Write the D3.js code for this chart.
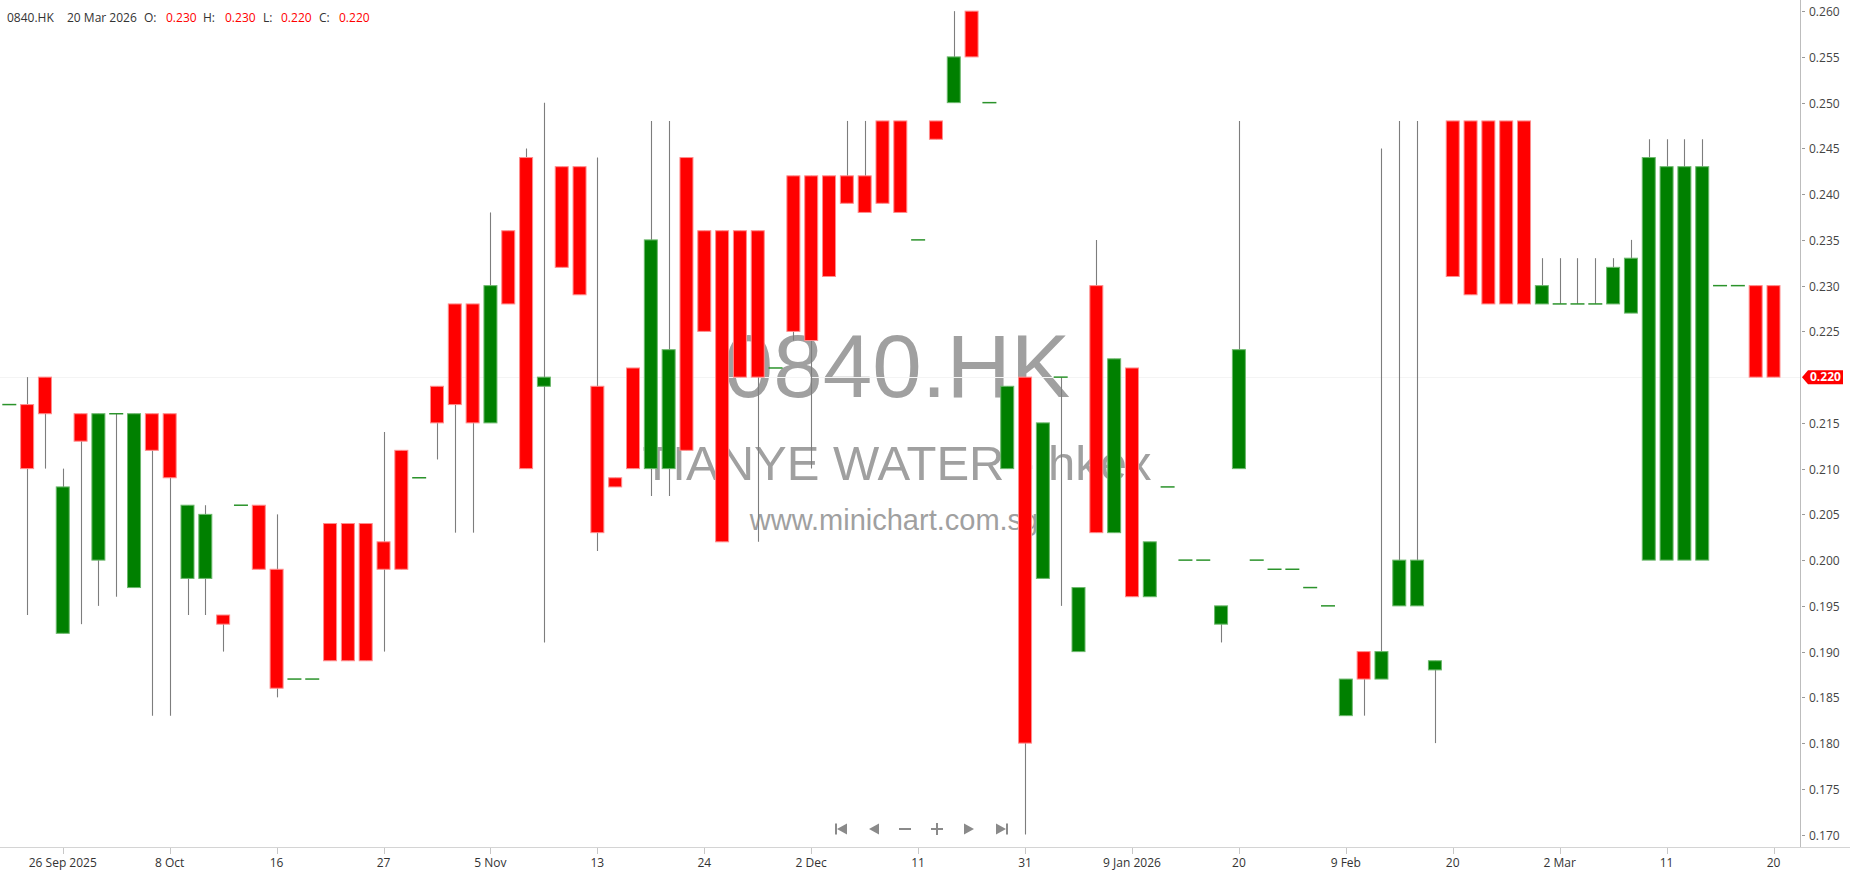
<!DOCTYPE html>
<html><head><meta charset="utf-8">
<script src="https://cdn.jsdelivr.net/npm/d3@7"></script>
<style>
html,body{margin:0;padding:0;background:#fff;overflow:hidden;}
svg{display:block;}
</style></head><body>
<svg id="chart" width="1850" height="874"></svg>
<script>
const opens = [0.217,0.217,0.220,0.192,0.216,0.200,0.216,0.197,0.216,0.216,
0.198,0.198,0.194,0.206,0.206,0.199,0.187,0.187,0.204,0.204,
0.204,0.202,0.212,0.209,0.219,0.228,0.228,0.215,0.236,0.244,
0.219,0.243,0.243,0.219,0.209,0.221,0.210,0.210,0.244,0.236,
0.236,0.236,0.236,0.221,0.242,0.242,0.242,0.242,0.242,0.248,
0.248,0.235,0.248,0.250,0.260,0.250,0.210,0.220,0.198,0.220,
0.190,0.230,0.203,0.221,0.196,0.208,0.200,0.200,0.193,0.210,
0.200,0.199,0.199,0.197,0.195,0.183,0.190,0.187,0.195,0.195,
0.188,0.248,0.248,0.248,0.248,0.248,0.228,0.228,0.228,0.228,
0.228,0.227,0.200,0.200,0.200,0.200,0.230,0.230,0.230,0.230];
const highs = [0.217,0.220,0.220,0.210,0.216,0.216,0.216,0.216,0.216,0.216,
0.206,0.206,0.194,0.206,0.206,0.205,0.187,0.187,0.204,0.204,
0.204,0.214,0.212,0.209,0.219,0.228,0.228,0.238,0.236,0.245,
0.250,0.243,0.243,0.244,0.209,0.221,0.248,0.248,0.244,0.236,
0.236,0.236,0.236,0.221,0.242,0.242,0.242,0.248,0.248,0.248,
0.248,0.235,0.248,0.260,0.260,0.250,0.219,0.220,0.215,0.220,
0.197,0.235,0.222,0.221,0.202,0.208,0.200,0.200,0.195,0.248,
0.200,0.199,0.199,0.197,0.195,0.187,0.190,0.245,0.248,0.248,
0.189,0.248,0.248,0.248,0.248,0.248,0.233,0.233,0.233,0.233,
0.233,0.235,0.246,0.246,0.246,0.246,0.230,0.230,0.230,0.230];
const lows = [0.217,0.194,0.210,0.192,0.193,0.195,0.196,0.197,0.183,0.183,
0.194,0.194,0.190,0.206,0.199,0.185,0.187,0.187,0.189,0.189,
0.189,0.190,0.199,0.209,0.211,0.203,0.203,0.215,0.228,0.210,
0.191,0.232,0.229,0.201,0.208,0.210,0.207,0.207,0.212,0.225,
0.202,0.220,0.202,0.221,0.224,0.210,0.231,0.239,0.238,0.239,
0.238,0.235,0.246,0.250,0.255,0.250,0.210,0.170,0.198,0.195,
0.190,0.203,0.203,0.196,0.196,0.208,0.200,0.200,0.191,0.210,
0.200,0.199,0.199,0.197,0.195,0.183,0.183,0.187,0.195,0.195,
0.180,0.231,0.229,0.228,0.228,0.228,0.228,0.228,0.228,0.228,
0.228,0.227,0.200,0.200,0.200,0.200,0.230,0.230,0.220,0.220];
const closes = [0.217,0.210,0.216,0.208,0.213,0.216,0.216,0.216,0.212,0.209,
0.206,0.205,0.193,0.206,0.199,0.186,0.187,0.187,0.189,0.189,
0.189,0.199,0.199,0.209,0.215,0.217,0.215,0.230,0.228,0.210,
0.220,0.232,0.229,0.203,0.208,0.210,0.235,0.223,0.212,0.225,
0.202,0.220,0.220,0.221,0.225,0.224,0.231,0.239,0.238,0.239,
0.238,0.235,0.246,0.255,0.255,0.250,0.219,0.180,0.215,0.220,
0.197,0.203,0.222,0.196,0.202,0.208,0.200,0.200,0.195,0.223,
0.200,0.199,0.199,0.197,0.195,0.187,0.187,0.190,0.200,0.200,
0.189,0.231,0.229,0.228,0.228,0.228,0.230,0.228,0.228,0.228,
0.232,0.233,0.244,0.243,0.243,0.243,0.230,0.230,0.220,0.220];

const xTickIndex = [3,9,15,21,27,33,39,45,51,57,63,69,75,81,87,93,99];
const xTickLabels = ["26 Sep 2025","8 Oct","16","27","5 Nov","13","24","2 Dec","11","31","9 Jan 2026","20","9 Feb","20","2 Mar","11","20"];
const yTicks = [0.170,0.175,0.180,0.185,0.190,0.195,0.200,0.205,0.210,0.215,0.220,0.225,0.230,0.235,0.240,0.245,0.250,0.255,0.260];

const symbol = "0840.HK";
const companyLine = "TIANYE WATER - hkex";
const siteLine = "www.minichart.com.sg";
const lastDate = "20 Mar 2026";

const candles = opens.map((o,i)=>({i, o, h:highs[i], l:lows[i], c:closes[i]}));

const svg = d3.select("#chart");
const plotRight = 1800, plotBottom = 847;
const x = d3.scaleLinear().domain([0, candles.length-1]).range([9.3, 1773.5]);
const y = d3.scaleLinear().domain([0.170, 0.260]).range([834.6, 11.15]);
const fmt = d3.format(".3f");

// watermark
const wm = svg.append("g").attr("font-family","'Liberation Sans', Arial, sans-serif").attr("fill","#a0a0a0").attr("text-anchor","middle");
wm.append("text").attr("x",897).attr("y",397).attr("font-size",89).text(symbol);
wm.append("text").attr("x",897).attr("y",480).attr("font-size",49).text(companyLine);
wm.append("text").attr("x",894).attr("y",530).attr("font-size",29).text(siteLine);

const last = candles[candles.length-1];
// last price line (white, visible only across the watermark)
svg.append("line").attr("x1",0).attr("x2",plotRight).attr("y1",Math.round(y(last.c))+0.5).attr("y2",Math.round(y(last.c))+0.5)
  .attr("stroke","#f4f4f4").attr("stroke-width",1);

// wicks
svg.append("g").selectAll("line").data(candles.filter(d=>d.h!==d.l)).join("line")
  .attr("x1",d=>Math.round(x(d.i))+0.5).attr("x2",d=>Math.round(x(d.i))+0.5)
  .attr("y1",d=>y(d.h)).attr("y2",d=>y(d.l))
  .attr("stroke","#7d7d7d").attr("stroke-width",1.1);

// bodies
const bw = 13;
svg.append("g").selectAll("rect").data(candles.filter(d=>d.o!==d.c)).join("rect")
  .attr("x",d=>x(d.i)-bw/2).attr("width",bw)
  .attr("y",d=>y(Math.max(d.o,d.c))).attr("height",d=>Math.abs(y(d.o)-y(d.c)))
  .attr("fill",d=>d.c>d.o?"#008000":"#ff0000")
  .attr("stroke",d=>d.c>d.o?"#6cb86c":"#ff8c8c").attr("stroke-width",1);

// flat (doji) marks
svg.append("g").selectAll("line").data(candles.filter(d=>d.o===d.c)).join("line")
  .attr("x1",d=>x(d.i)-7).attr("x2",d=>x(d.i)+7)
  .attr("y1",d=>y(d.c)).attr("y2",d=>y(d.c))
  .attr("stroke","#2b932b").attr("stroke-width",1.5);

// axes lines
svg.append("line").attr("x1",plotRight+0.5).attr("x2",plotRight+0.5).attr("y1",0).attr("y2",plotBottom)
  .attr("stroke","#bdbdbd").attr("stroke-width",1);
svg.append("line").attr("x1",0).attr("x2",1850).attr("y1",plotBottom+0.5).attr("y2",plotBottom+0.5)
  .attr("stroke","#d4d4d4").attr("stroke-width",1);

// y axis ticks and labels
const ya = svg.append("g").attr("font-family","'Open Sans', sans-serif").attr("font-size",12);
yTicks.forEach(t=>{
  if (Math.abs(t-last.c)<1e-9) return;
  const yy = Math.round(y(t))+0.5;
  ya.append("line").attr("x1",1802).attr("x2",1805).attr("y1",yy).attr("y2",yy).attr("stroke","#999");
  ya.append("text").attr("x",1809).attr("y",yy).attr("dy","0.35em").attr("fill","#444").text(fmt(t));
});
// last price tag
const ly = y(last.c);
svg.append("path").attr("d",`M1802,${ly} L1808,${ly-7} L1843,${ly-7} L1843,${ly+7} L1808,${ly+7} Z`).attr("fill","#ff0000");
svg.append("text").attr("x",1810).attr("y",ly).attr("dy","0.36em").attr("font-family","'Open Sans', sans-serif")
  .attr("font-size",12).attr("font-weight","bold").attr("fill","#fff").text(fmt(last.c));

// x axis ticks and labels
const xa = svg.append("g").attr("font-family","'Open Sans', sans-serif").attr("font-size",12).attr("text-anchor","middle");
xTickIndex.forEach((idx,k)=>{
  const xx = Math.round(x(idx))+0.5;
  xa.append("line").attr("x1",xx).attr("x2",xx).attr("y1",plotBottom+1).attr("y2",plotBottom+7).attr("stroke","#c8c8c8");
  xa.append("text").attr("x",x(idx)).attr("y",867).attr("fill","#333").text(xTickLabels[k]);
});

// header
const hd = svg.append("g").attr("font-family","'Open Sans', sans-serif").attr("font-size",12).attr("fill","#333");
const hy = 22;
hd.append("text").attr("x",7).attr("y",hy).text(symbol);
hd.append("text").attr("x",67).attr("y",hy).text(lastDate);
[["O:",last.o,144,166],["H:",last.h,203,225],["L:",last.l,263,281],["C:",last.c,319,339]].forEach(([lab,v,lx,vx])=>{
  hd.append("text").attr("x",lx).attr("y",hy).text(lab);
  hd.append("text").attr("x",vx).attr("y",hy).attr("fill","#ff0000").text(fmt(v));
});

// navigation buttons
const nav = svg.append("g").attr("fill","#8a8a8a");
const cy = 829;
const navX = [841,874,905,937,969,1002];
nav.append("rect").attr("x",navX[0]-6).attr("y",cy-5.5).attr("width",2).attr("height",11);
nav.append("path").attr("d",`M${navX[0]-4},${cy} L${navX[0]+6},${cy-5.5} L${navX[0]+6},${cy+5.5} Z`);
nav.append("path").attr("d",`M${navX[1]-5},${cy} L${navX[1]+5},${cy-5.5} L${navX[1]+5},${cy+5.5} Z`);
nav.append("rect").attr("x",navX[2]-6).attr("y",cy-1).attr("width",12).attr("height",2);
nav.append("rect").attr("x",navX[3]-6).attr("y",cy-1).attr("width",12).attr("height",2);
nav.append("rect").attr("x",navX[3]-1).attr("y",cy-6).attr("width",2).attr("height",12);
nav.append("path").attr("d",`M${navX[4]+5},${cy} L${navX[4]-5},${cy-5.5} L${navX[4]-5},${cy+5.5} Z`);
nav.append("path").attr("d",`M${navX[5]+4},${cy} L${navX[5]-6},${cy-5.5} L${navX[5]-6},${cy+5.5} Z`);
nav.append("rect").attr("x",navX[5]+4).attr("y",cy-5.5).attr("width",2).attr("height",11);
</script>
</body></html>
